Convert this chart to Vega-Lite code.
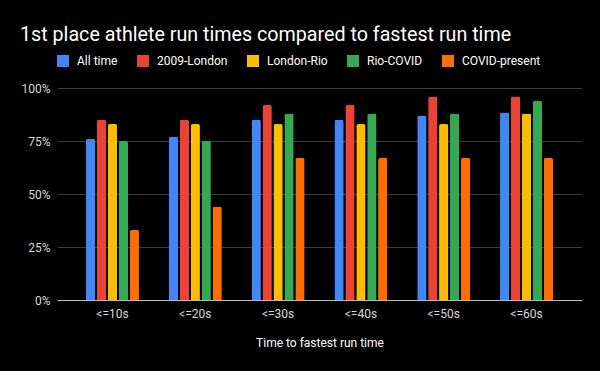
{
  "$schema": "https://vega.github.io/schema/vega-lite/v6.json",
  "width": 525,
  "height": 212,
  "autosize": "none",
  "padding": {"left": 57, "top": 88, "right": 18, "bottom": 71},
  "background": "#000000",
  "title": {
    "text": "1st place athlete run times compared to fastest run time",
    "anchor": "start",
    "frame": "group",
    "dx": -37,
    "fontSize": 19.7,
    "fontWeight": "normal",
    "font": "Roboto",
    "color": "#ffffff",
    "offset": 10
  },
  "data": {
    "values": [
      {"bin": "<=10s", "period": "All time", "pct": 76},
      {"bin": "<=10s", "period": "2009-London", "pct": 85},
      {"bin": "<=10s", "period": "London-Rio", "pct": 83},
      {"bin": "<=10s", "period": "Rio-COVID", "pct": 75},
      {"bin": "<=10s", "period": "COVID-present", "pct": 33},
      {"bin": "<=20s", "period": "All time", "pct": 77},
      {"bin": "<=20s", "period": "2009-London", "pct": 85},
      {"bin": "<=20s", "period": "London-Rio", "pct": 83},
      {"bin": "<=20s", "period": "Rio-COVID", "pct": 75},
      {"bin": "<=20s", "period": "COVID-present", "pct": 44},
      {"bin": "<=30s", "period": "All time", "pct": 85},
      {"bin": "<=30s", "period": "2009-London", "pct": 92},
      {"bin": "<=30s", "period": "London-Rio", "pct": 83},
      {"bin": "<=30s", "period": "Rio-COVID", "pct": 88},
      {"bin": "<=30s", "period": "COVID-present", "pct": 67},
      {"bin": "<=40s", "period": "All time", "pct": 85},
      {"bin": "<=40s", "period": "2009-London", "pct": 92},
      {"bin": "<=40s", "period": "London-Rio", "pct": 83},
      {"bin": "<=40s", "period": "Rio-COVID", "pct": 88},
      {"bin": "<=40s", "period": "COVID-present", "pct": 67},
      {"bin": "<=50s", "period": "All time", "pct": 87},
      {"bin": "<=50s", "period": "2009-London", "pct": 96},
      {"bin": "<=50s", "period": "London-Rio", "pct": 83},
      {"bin": "<=50s", "period": "Rio-COVID", "pct": 88},
      {"bin": "<=50s", "period": "COVID-present", "pct": 67},
      {"bin": "<=60s", "period": "All time", "pct": 88.5},
      {"bin": "<=60s", "period": "2009-London", "pct": 96},
      {"bin": "<=60s", "period": "London-Rio", "pct": 88},
      {"bin": "<=60s", "period": "Rio-COVID", "pct": 94},
      {"bin": "<=60s", "period": "COVID-present", "pct": 67}
    ]
  },
  "mark": {"type": "bar", "cornerRadiusTopLeft": 2, "cornerRadiusTopRight": 2},
  "encoding": {
    "x": {
      "field": "bin",
      "type": "nominal",
      "sort": ["<=10s", "<=20s", "<=30s", "<=40s", "<=50s", "<=60s"],
      "scale": {"paddingInner": 0.36, "paddingOuter": 0.35},
      "axis": {
        "title": "Time to fastest run time",
        "labelAngle": 0,
        "labelColor": "#d9d9d9",
        "labelFontSize": 12,
        "labelFont": "Roboto",
        "labelPadding": 8,
        "titleColor": "#ffffff",
        "titleFontSize": 12,
        "titleFont": "Roboto",
        "titleFontWeight": "normal",
        "titlePadding": 18,
        "ticks": false,
        "domainColor": "#bdbdbd",
        "grid": false
      }
    },
    "xOffset": {
      "field": "period",
      "type": "nominal",
      "sort": ["All time", "2009-London", "London-Rio", "Rio-COVID", "COVID-present"],
      "scale": {"paddingInner": 0.15, "paddingOuter": 0}
    },
    "y": {
      "field": "pct",
      "type": "quantitative",
      "scale": {"domain": [0, 100], "nice": false},
      "axis": {
        "title": null,
        "values": [0, 25, 50, 75, 100],
        "labelExpr": "datum.value + '%'",
        "labelColor": "#d9d9d9",
        "labelFontSize": 12,
        "labelFont": "Roboto",
        "labelPadding": 7,
        "ticks": false,
        "domain": false,
        "gridColor": "#3d3d3d",
        "gridWidth": 1
      }
    },
    "color": {
      "field": "period",
      "type": "nominal",
      "scale": {
        "domain": ["All time", "2009-London", "London-Rio", "Rio-COVID", "COVID-present"],
        "range": ["#4285F4", "#EA4335", "#FBBC04", "#34A853", "#FF6D01"]
      },
      "legend": {
        "title": null,
        "orient": "none",
        "direction": "horizontal",
        "legendX": 0,
        "legendY": -33,
        "symbolType": "square",
        "symbolSize": 144,
        "symbolStrokeWidth": 0,
        "labelColor": "#ffffff",
        "labelFontSize": 12,
        "labelFont": "Roboto",
        "labelOffset": 8,
        "columnPadding": 19
      }
    }
  },
  "config": {
    "view": {"stroke": null},
    "font": "Roboto"
  }
}
